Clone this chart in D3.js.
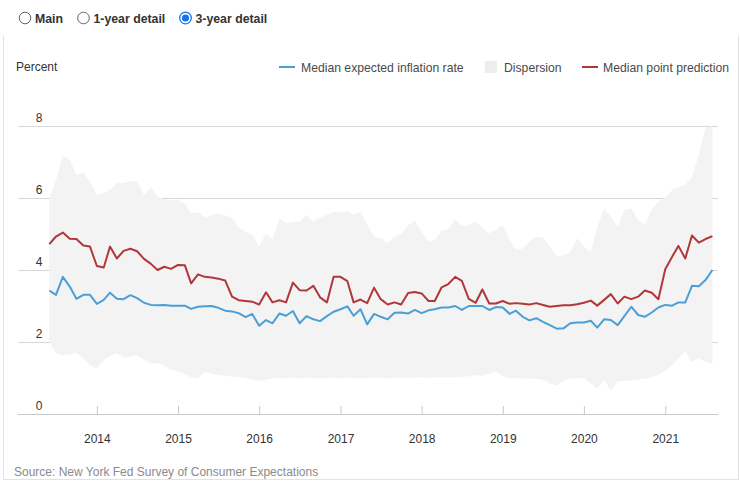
<!DOCTYPE html>
<html>
<head>
<meta charset="utf-8">
<script src="https://cdn.jsdelivr.net/npm/d3@7"></script>
<style>
  body { margin: 0; background: #fff; }
  svg { display: block; font-family: "Liberation Sans", Arial, sans-serif; }
</style>
</head>
<body>
<div id="chart-area"></div>
<script>
// Survey of Consumer Expectations - 3-year ahead, monthly Jun 2013 .. Aug 2021
const months = d3.timeMonth.range(new Date(2013, 5, 1), new Date(2021, 8, 1));

const medianExpected = [
  3.43, 3.31, 3.81, 3.54, 3.20, 3.31, 3.31, 3.06, 3.17, 3.37, 3.20, 3.19, 3.30, 3.22, 3.09, 3.03,
  3.02, 3.03, 3.01, 3.01, 3.01, 2.92, 2.98, 2.99, 3.00, 2.95, 2.87, 2.85, 2.80, 2.69, 2.78, 2.45,
  2.61, 2.52, 2.79, 2.73, 2.86, 2.52, 2.72, 2.63, 2.58, 2.72, 2.84, 2.91, 2.99, 2.73, 2.91, 2.49,
  2.78, 2.70, 2.63, 2.81, 2.82, 2.79, 2.89, 2.80, 2.88, 2.91, 2.96, 2.96, 3.00, 2.89, 3.00, 3.00,
  3.00, 2.89, 2.97, 2.96, 2.78, 2.87, 2.70, 2.60, 2.66, 2.56, 2.47, 2.37, 2.38, 2.52, 2.54, 2.54,
  2.59, 2.40, 2.63, 2.61, 2.47, 2.72, 2.98, 2.75, 2.70, 2.82, 2.96, 3.03, 3.01, 3.10, 3.10, 3.56,
  3.55, 3.72, 4.00
];

const medianPoint = [
  4.72, 4.93, 5.04, 4.87, 4.86, 4.68, 4.65, 4.11, 4.07, 4.65, 4.32, 4.53, 4.59, 4.52, 4.31, 4.17,
  4.00, 4.09, 4.03, 4.14, 4.13, 3.63, 3.88, 3.81, 3.79, 3.76, 3.71, 3.26, 3.16, 3.14, 3.12, 3.04,
  3.38, 3.10, 3.16, 3.10, 3.65, 3.44, 3.43, 3.56, 3.24, 3.10, 3.81, 3.81, 3.69, 3.10, 3.18, 3.08,
  3.51, 3.19, 3.04, 3.10, 3.04, 3.36, 3.39, 3.35, 3.14, 3.14, 3.52, 3.61, 3.81, 3.70, 3.20, 3.09,
  3.46, 3.07, 3.07, 3.14, 3.06, 3.08, 3.06, 3.04, 3.08, 3.03, 2.98, 3.00, 3.02, 3.02, 3.05, 3.09,
  3.15, 3.01, 3.17, 3.33, 3.07, 3.26, 3.19, 3.26, 3.43, 3.37, 3.19, 4.02, 4.37, 4.67, 4.32, 4.96,
  4.76, 4.86, 4.94
];

// dispersion band (interquartile range)
const dispersionHigh = [
  6.00, 6.50, 7.17, 7.06, 6.64, 6.71, 6.45, 6.08, 6.14, 6.22, 6.42, 6.42, 6.48, 6.46, 6.08, 6.30,
  6.05, 5.96, 5.94, 5.96, 5.85, 5.58, 5.60, 5.46, 5.52, 5.57, 5.52, 5.44, 5.18, 5.06, 4.97, 4.65,
  5.02, 4.83, 5.44, 5.30, 5.34, 5.34, 5.53, 5.34, 5.46, 5.53, 5.62, 5.60, 5.64, 5.53, 5.62, 5.25,
  4.93, 4.88, 4.74, 4.93, 5.00, 5.25, 5.37, 5.06, 4.79, 4.83, 5.09, 5.13, 5.41, 5.22, 5.25, 5.34,
  5.18, 5.02, 5.11, 5.25, 4.83, 4.56, 4.60, 4.79, 4.93, 4.90, 4.65, 4.37, 4.42, 4.50, 4.88, 4.65,
  4.50, 5.20, 5.71, 5.48, 5.20, 5.67, 5.71, 5.39, 5.25, 5.67, 5.90, 6.02, 6.22, 6.30, 6.36, 6.59,
  7.20, 7.95, 8.00
];

const dispersionLow = [
  2.00, 1.68, 1.64, 1.66, 1.70, 1.55, 1.35, 1.27, 1.50, 1.62, 1.69, 1.56, 1.60, 1.64, 1.50, 1.41,
  1.41, 1.35, 1.22, 1.18, 1.10, 1.02, 0.99, 1.18, 1.12, 1.08, 1.06, 1.04, 1.02, 0.99, 0.96, 0.92,
  0.96, 0.99, 1.00, 0.99, 1.00, 0.99, 1.00, 0.99, 1.00, 0.99, 1.00, 0.99, 1.00, 0.99, 1.00, 0.99,
  1.02, 1.00, 0.99, 1.00, 1.00, 1.00, 1.02, 1.02, 1.01, 1.02, 1.02, 1.02, 1.02, 1.03, 1.05, 1.08,
  1.06, 1.12, 1.18, 1.05, 0.99, 0.99, 0.99, 0.98, 0.98, 0.95, 0.85, 0.79, 0.92, 0.99, 0.99, 0.99,
  0.85, 0.71, 0.96, 0.64, 0.90, 0.92, 0.94, 0.96, 0.98, 1.02, 1.08, 1.20, 1.36, 1.55, 1.73, 1.45,
  1.55, 1.45, 1.40
];

const yTicks = [0, 2, 4, 6, 8];
const xTicks = [2014, 2015, 2016, 2017, 2018, 2019, 2020, 2021];
const radioLabels = ['Main', '1-year detail', '3-year detail'];
const legendItems = [
  { label: 'Median expected inflation rate', type: 'line', color: '#4c9fd6' },
  { label: 'Dispersion', type: 'box', color: '#ededed' },
  { label: 'Median point prediction', type: 'line', color: '#b2373a' }
];

const data = months.map((m, i) => ({
  date: m,
  median: medianExpected[i],
  point: medianPoint[i],
  lo: dispersionLow[i],
  hi: dispersionHigh[i]
}));

const W = 740, H = 482;
const svg = d3.select('#chart-area')
  .append('svg')
    .attr('width', W)
    .attr('height', H);

// frame
svg.append('path')
  .attr('d', 'M3.5,36V479.5H738.5V36')
  .attr('fill', 'none')
  .attr('stroke', '#e2e2e2');

// Radio buttons
const radioX = [25, 83.5, 185.5];
radioLabels.forEach((label, i) => {
  const g = svg.append('g').attr('transform', 'translate(' + radioX[i] + ',18)');
  if (i === 2) {
    g.append('circle').attr('r', 5.8).attr('fill', '#fff').attr('stroke', '#1a73e8').attr('stroke-width', 1.3);
    g.append('circle').attr('r', 3.6).attr('fill', '#1a73e8');
  } else {
    g.append('circle').attr('r', 5.8).attr('fill', '#fff').attr('stroke', '#666').attr('stroke-width', 1);
  }
  g.append('text')
    .attr('x', 10)
    .attr('y', 4.5)
    .attr('font-size', '12.3px')
    .attr('font-weight', 'bold')
    .attr('fill', '#333')
    .text(label);
});

// Scales
const x = d3.scaleTime()
  .domain([new Date(2013, 5, 1), new Date(2021, 7, 1)])
  .range([49.3, 712.4]);

const y = d3.scaleLinear()
  .domain([0, 8])
  .range([414, 126]);

const plotLeft = 18, plotRight = 718;

// Grid + y labels
yTicks.forEach((t) => {
  svg.append('line')
    .attr('x1', plotLeft).attr('x2', plotRight)
    .attr('y1', y(t) + 0.5).attr('y2', y(t) + 0.5)
    .attr('stroke', t === 0 ? '#c8c8c8' : '#d6d6d6');
  svg.append('text')
    .attr('x', 39)
    .attr('y', y(t) - 4)
    .attr('text-anchor', 'middle')
    .attr('font-size', '12px')
    .attr('fill', '#333')
    .text(t);
});

// Dispersion band
const band = d3.area()
  .x((d) => x(d.date))
  .y0((d) => y(d.lo))
  .y1((d) => y(d.hi));

svg.append('path')
  .datum(data)
  .attr('d', band)
  .attr('fill', '#f3f3f3');

// X Axis
const xAxisCall = d3.axisBottom(x)
  .tickValues(xTicks.map((yr) => new Date(yr, 0, 1)))
  .tickSize(0)
  .tickFormat(d3.timeFormat('%Y'));
const xAxis = svg.append('g')
  .attr('transform', 'translate(0,414)')
  .call(xAxisCall);
xAxis.select('.domain').remove();
xAxis.selectAll('.tick text')
  .attr('y', 20)
  .attr('font-size', '12px')
  .attr('font-family', '"Liberation Sans", Arial, sans-serif')
  .attr('fill', '#333');
xAxis.selectAll('.tick')
  .append('line')
    .attr('y1', -8)
    .attr('y2', 0)
    .attr('stroke', '#c8c8c8');

// Lines
const lineMedian = d3.line()
  .x((d) => x(d.date))
  .y((d) => y(d.median));
const linePoint = d3.line()
  .x((d) => x(d.date))
  .y((d) => y(d.point));

svg.append('path')
  .datum(data)
  .attr('d', lineMedian)
  .attr('fill', 'none')
  .attr('stroke', legendItems[0].color)
  .attr('stroke-width', 2)
  .attr('stroke-linejoin', 'round');

svg.append('path')
  .datum(data)
  .attr('d', linePoint)
  .attr('fill', 'none')
  .attr('stroke', legendItems[2].color)
  .attr('stroke-width', 2)
  .attr('stroke-linejoin', 'round');

// Axis title
svg.append('text')
  .attr('x', 16)
  .attr('y', 71)
  .attr('font-size', '12px')
  .attr('fill', '#333')
  .text('Percent');

// Legend
const legendX = [279, 485, 582];
const legendTextX = [301, 504, 603];
legendItems.forEach((item, i) => {
  if (item.type === 'line') {
    svg.append('line')
      .attr('x1', legendX[i]).attr('x2', legendX[i] + 16)
      .attr('y1', 67).attr('y2', 67)
      .attr('stroke', item.color)
      .attr('stroke-width', 2);
  } else {
    svg.append('rect')
      .attr('x', legendX[i]).attr('y', 61)
      .attr('width', 12).attr('height', 12)
      .attr('fill', item.color);
  }
  svg.append('text')
    .attr('x', legendTextX[i])
    .attr('y', 71.5)
    .attr('font-size', '12.2px')
    .attr('fill', '#4a4a4a')
    .text(item.label);
});

// Source
svg.append('text')
  .attr('x', 14)
  .attr('y', 476)
  .attr('font-size', '12px')
  .attr('fill', '#8a8a8a')
  .text('Source: New York Fed Survey of Consumer Expectations');
</script>
</body>
</html>
